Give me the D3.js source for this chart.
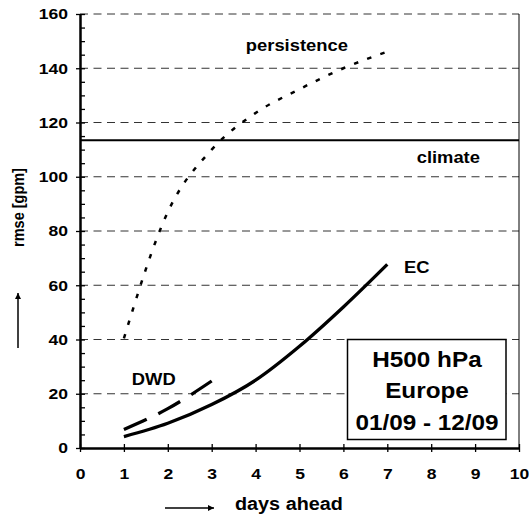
<!DOCTYPE html>
<html>
<head>
<meta charset="utf-8">
<script src="https://cdn.jsdelivr.net/npm/d3@7"></script>
<style>
  body { margin: 0; background: #fff; }
  text { font-family: Arial, "Liberation Sans", sans-serif; font-weight: bold; fill: #000; }
</style>
</head>
<body>
<svg width="529" height="515"></svg>
<script>
// values
var days = [1, 2, 3, 4, 5, 6, 7];
var ecValues = [4.2, 9.1, 16, 25, 37.5, 52, 67.7];
var persistenceValues = [40.4, 87, 110, 123.5, 132.3, 140, 146.1];
var dwdDays = [1, 2, 3];
var dwdValues = [6.8, 14.5, 24.7];
var climateValue = 113.5;
var xTicks = [0, 1, 2, 3, 4, 5, 6, 7, 8, 9, 10];
var yTicks = [0, 20, 40, 60, 80, 100, 120, 140, 160];
var yMinorTicks = d3.range(0, 161, 5);
var boxLines = ["H500 hPa", "Europe", "01/09 - 12/09"];

var svg = d3.select("svg");

var x = d3.scaleLinear().domain([0, 10]).range([80, 519]);
var y = d3.scaleLinear().domain([0, 160]).range([448, 14]);

// the original text is a bit wider than plain Arial
function stretch(sel, k) {
    sel.each(function() {
        var len = this.getComputedTextLength();
        d3.select(this)
            .attr("textLength", len * k)
            .attr("lengthAdjust", "spacingAndGlyphs");
    });
}

// dashed grid lines
svg.append("g")
    .selectAll("line")
    .data(yTicks.filter(function(d) { return d > 0; }))
    .enter().append("line")
    .attr("x1", x(0))
    .attr("x2", x(10))
    .attr("y1", function(d) { return y(d); })
    .attr("y2", function(d) { return y(d); })
    .attr("stroke", "#333")
    .attr("stroke-width", 1)
    .attr("stroke-dasharray", "8,5.5");

// right frame
svg.append("line")
    .attr("x1", x(10)).attr("x2", x(10))
    .attr("y1", y(160)).attr("y2", y(0))
    .attr("stroke", "#000")
    .attr("stroke-width", 1);

// climate line
svg.append("line")
    .attr("x1", x(0)).attr("x2", x(10))
    .attr("y1", y(climateValue)).attr("y2", y(climateValue))
    .attr("stroke", "#000")
    .attr("stroke-width", 2);

// axes
var yAxis = svg.append("g")
    .attr("transform", "translate(" + x(0) + ",0)")
    .call(d3.axisLeft(y).tickValues(yTicks).tickSize(4).tickPadding(8).tickSizeOuter(0));
var yInner = svg.append("g")
    .attr("transform", "translate(" + x(0) + ",0)")
    .call(d3.axisRight(y).tickValues(yMinorTicks).tickSize(5).tickFormat("").tickSizeOuter(0));
var xAxis = svg.append("g")
    .attr("transform", "translate(0," + y(0) + ")")
    .call(d3.axisBottom(x).tickValues(xTicks).tickSize(4).tickPadding(16).tickSizeOuter(0));
var xInner = svg.append("g")
    .attr("transform", "translate(0," + y(0) + ")")
    .call(d3.axisTop(x).tickValues(xTicks).tickSize(4).tickFormat("").tickSizeOuter(0));

[yAxis, yInner, xAxis, xInner].forEach(function(g) {
    g.select(".domain").attr("stroke", "#000").attr("stroke-width", 2);
    g.selectAll(".tick line").attr("stroke", "#000").attr("stroke-width", 1.3);
    g.selectAll("text").attr("font-size", 15.5).attr("fill", "#000")
        .style("font-family", "Arial, 'Liberation Sans', sans-serif").style("font-weight", "bold")
        .call(stretch, 1.13);
});

// series
var line = d3.line()
    .x(function(d) { return x(d[0]); })
    .y(function(d) { return y(d[1]); })
    .curve(d3.curveMonotoneX);

svg.append("path")
    .datum(d3.zip(days, persistenceValues))
    .attr("d", line)
    .attr("fill", "none")
    .attr("stroke", "#000")
    .attr("stroke-width", 2.5)
    .attr("stroke-dasharray", "4.5,9.5");

svg.append("path")
    .datum(d3.zip(dwdDays, dwdValues))
    .attr("d", line)
    .attr("fill", "none")
    .attr("stroke", "#000")
    .attr("stroke-width", 3.3)
    .attr("stroke-dasharray", "25,13");

svg.append("path")
    .datum(d3.zip(days, ecValues))
    .attr("d", line)
    .attr("fill", "none")
    .attr("stroke", "#000")
    .attr("stroke-width", 3.3);

// series labels
var labels = svg.append("g");
labels.append("text").attr("x", x(4.94)).attr("y", y(146.2))
    .attr("text-anchor", "middle").attr("font-size", 17).text("persistence");
labels.append("text").attr("x", x(8.39)).attr("y", y(105))
    .attr("text-anchor", "middle").attr("font-size", 17).text("climate");
labels.append("text").attr("x", x(7.38)).attr("y", y(64.6))
    .attr("font-size", 17).text("EC");
labels.append("text").attr("x", x(1.18)).attr("y", y(23.2))
    .attr("font-size", 17).text("DWD");
labels.selectAll("text").call(stretch, 1.08);

// info box
svg.append("rect")
    .attr("x", 347.5).attr("y", 339.5)
    .attr("width", 158.5).attr("height", 100)
    .attr("fill", "#fff")
    .attr("stroke", "#000")
    .attr("stroke-width", 1.5);

svg.append("g")
    .selectAll("text")
    .data(boxLines)
    .enter().append("text")
    .attr("x", 427)
    .attr("y", function(d, i) { return 366.5 + i * 31.8; })
    .attr("text-anchor", "middle")
    .attr("font-size", 22.5)
    .text(function(d) { return d; })
    .call(stretch, 1.08);

// axis titles with arrows
svg.append("defs").append("marker")
    .attr("id", "arrow")
    .attr("viewBox", "0 0 10 10")
    .attr("refX", 10).attr("refY", 5)
    .attr("markerWidth", 7).attr("markerHeight", 6)
    .attr("markerUnits", "userSpaceOnUse")
    .attr("orient", "auto")
    .append("path")
    .attr("d", "M0,0L10,5L0,10Z")
    .attr("fill", "#000");

svg.append("line")
    .attr("x1", 165).attr("y1", 508).attr("x2", 214).attr("y2", 508)
    .attr("stroke", "#000").attr("stroke-width", 1.5)
    .attr("marker-end", "url(#arrow)");
svg.append("text").attr("x", 235).attr("y", 509.5)
    .attr("font-size", 18).text("days ahead")
    .call(stretch, 1.1);

svg.append("line")
    .attr("x1", 18).attr("y1", 348).attr("x2", 18).attr("y2", 293)
    .attr("stroke", "#000").attr("stroke-width", 1.5)
    .attr("marker-end", "url(#arrow)");
svg.append("text")
    .attr("transform", "translate(23.5,207.5) rotate(-90) scale(1,1.12)")
    .attr("text-anchor", "middle")
    .attr("font-size", 14.5)
    .text("rmse [gpm]");
</script>
</body>
</html>
